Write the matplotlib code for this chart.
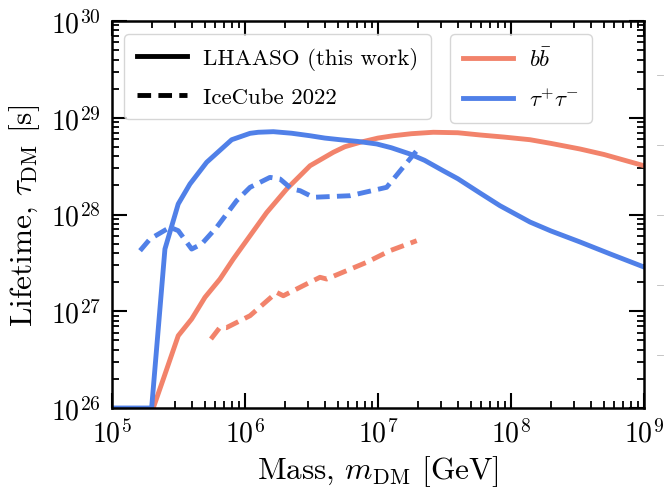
import numpy as np
import matplotlib
matplotlib.use('Agg')
import matplotlib.pyplot as plt
from matplotlib.lines import Line2D

plt.rcParams['font.family'] = 'serif'
plt.rcParams['font.serif'] = ['cmr10']
plt.rcParams['mathtext.fontset'] = 'cm'
plt.rcParams['axes.formatter.use_mathtext'] = True

# log10 of mass [GeV] and lifetime [s]
tau_lhaaso_x = [5.0, 5.298, 5.398, 5.498, 5.586, 5.712, 5.900, 6.038, 6.1, 6.213, 6.35, 6.489, 6.6,
                6.714, 6.85, 6.990, 7.1, 7.241, 7.35, 7.489, 7.6, 7.767, 7.917, 8.143, 8.3, 8.519,
                8.75, 9.0]
tau_lhaaso_y = [26.0, 26.0, 27.643, 28.109, 28.315, 28.540, 28.773, 28.839, 28.85, 28.856, 28.84,
                28.814, 28.79, 28.773, 28.755, 28.729, 28.69, 28.625, 28.56, 28.453, 28.37, 28.222,
                28.091, 27.922, 27.83, 27.716, 27.59, 27.457]

bb_lhaaso_x = [5.31, 5.386, 5.498, 5.599, 5.699, 5.812, 5.912, 6.038, 6.163, 6.313, 6.489,
               6.664, 6.75, 6.865, 7.0, 7.115, 7.25, 7.416, 7.6, 7.767, 7.95, 8.143, 8.3, 8.519,
               8.7, 9.0]
bb_lhaaso_y = [26.0, 26.30, 26.747, 26.92, 27.144, 27.333, 27.54, 27.781, 28.02, 28.263, 28.504,
               28.643, 28.70, 28.746, 28.79, 28.814, 28.835, 28.85, 28.845, 28.822, 28.80, 28.773,
               28.735, 28.677, 28.62, 28.504]

tau_ice_x = [5.211, 5.286, 5.436, 5.498, 5.599, 5.674, 5.787, 5.937, 6.038, 6.188, 6.263,
             6.351, 6.414, 6.514, 6.789, 7.065, 7.291]
tau_ice_y = [27.626, 27.747, 27.868, 27.833, 27.643, 27.695, 27.868, 28.143, 28.281, 28.384, 28.367,
             28.264, 28.246, 28.178, 28.194, 28.281, 28.66]

bb_ice_x = [5.744, 5.812, 5.86, 6.038, 6.238, 6.288, 6.489, 6.564, 6.614, 6.915, 7.090, 7.291]
bb_ice_y = [26.713, 26.834, 26.83, 26.954, 27.195, 27.16, 27.30, 27.351, 27.333, 27.506, 27.626, 27.729]

red = '#f2836b'
blue = '#5080e8'

fig = plt.figure(figsize=(6.65, 4.89), dpi=100)
ax = fig.add_axes([112/665, 1-409/489, 532/665, 387/489])

lw = 3.5
dash = (0, (2.8, 1.5))
ax.plot(10**np.array(bb_lhaaso_x), 10**np.array(bb_lhaaso_y), color=red, lw=lw)
ax.plot(10**np.array(tau_lhaaso_x), 10**np.array(tau_lhaaso_y), color=blue, lw=lw)
ax.plot(10**np.array(bb_ice_x), 10**np.array(bb_ice_y), color=red, lw=lw, ls=dash)
ax.plot(10**np.array(tau_ice_x), 10**np.array(tau_ice_y), color=blue, lw=lw, ls=dash)

ax.set_xscale('log')
ax.set_yscale('log')
ax.set_xlim(1e5, 1e9)
ax.set_ylim(1e26, 1e30)
ax.set_xlabel(r'Mass, $m_{\rm DM}$ [GeV]', fontsize=22.5, labelpad=4)
ax.set_ylabel(r'Lifetime, $\tau_{\rm DM}$ [s]', fontsize=22.5, labelpad=6)

ax.tick_params(which='both', direction='in', top=True, right=True, labelsize=20)
ax.tick_params(which='major', length=11, width=1.5, pad=8)
ax.tick_params(which='minor', length=5, width=1.3)
for s in ax.spines.values():
    s.set_linewidth(1.8)

leg_kw = dict(fontsize=16.5, handlelength=2.2, handletextpad=0.7, labelspacing=0.75,
              borderpad=0.55, frameon=True, borderaxespad=0, edgecolor='#cccccc')
h1 = [Line2D([], [], color='k', lw=lw), Line2D([], [], color='k', lw=lw, ls=dash)]
leg1 = ax.legend(h1, ['LHAASO (this work)', 'IceCube 2022'], loc='upper left',
                 bbox_to_anchor=((124-112)/532, (409-35)/387), **leg_kw)
ax.add_artist(leg1)
h2 = [Line2D([], [], color=red, lw=lw), Line2D([], [], color=blue, lw=lw)]
ax.legend(h2, [r'$b\bar{b}$', r'$\tau^{+}\tau^{-}$'], loc='upper right',
          bbox_to_anchor=((592-112)/532, (409-35)/387), **leg_kw)

# faint marks at the right edge
for yp in [76, 146, 216, 286, 356]:
    fig.add_artist(Line2D([657/665, 663/665], [1-yp/489, 1-yp/489], color='#bbbbbb', lw=0.6))

fig.savefig('out.png', dpi=100)
